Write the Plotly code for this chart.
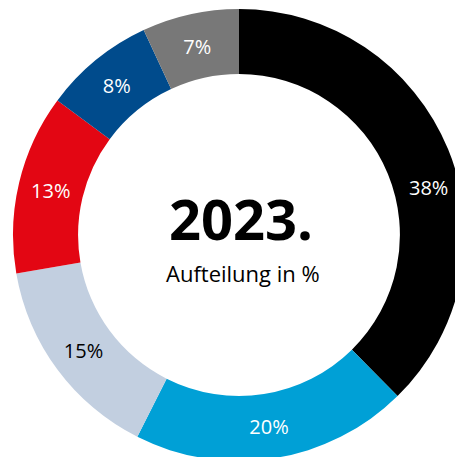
import plotly.graph_objects as go

# share per segment, clockwise from 12 o'clock
labels = ["A", "B", "C", "D", "E", "F"]
values = [38, 20, 15, 13, 8, 7]
colors = ["#000000", "#00a0d6", "#c2cfe0", "#e30613", "#004b8c", "#787878"]
text_colors = ["white", "white", "black", "white", "white", "white"]

year = "2023."
subtitle = "Aufteilung in %"

W, H = 480, 470

# the first label sits lower in the ring than its slice centre, so it is placed by hand
texts = [f"{v}%" for v in values]
texts[0] = ""

fig = go.Figure(go.Pie(
    labels=labels,
    values=values,
    text=texts,
    textinfo="text",
    textposition="inside",
    insidetextorientation="horizontal",
    insidetextfont=dict(family="Open Sans", size=20, color=text_colors),
    marker=dict(colors=colors, line=dict(width=0)),
    hole=0.712,
    sort=False,
    direction="clockwise",
    rotation=0,
    domain=dict(x=[13 / W, 465 / W], y=[1 - 461 / H, 1 - 9 / H]),
    hoverinfo="skip",
))

fig.add_annotation(text=f"{values[0]}%", x=428 / W, y=1 - 187 / H, xref="paper", yref="paper",
                   showarrow=False, font=dict(family="Open Sans", size=20, color="white"),
                   xanchor="center", yanchor="middle")

fig.add_annotation(text=f"<b>{year}</b>", x=241 / W, y=1 - 218 / H, xref="paper", yref="paper",
                   showarrow=False, font=dict(family="Open Sans", size=56, color="black"),
                   xanchor="center", yanchor="middle")
fig.add_annotation(text=subtitle, x=243 / W, y=1 - 273 / H, xref="paper", yref="paper",
                   showarrow=False, font=dict(family="Open Sans", size=22, color="black"),
                   xanchor="center", yanchor="middle")

fig.update_layout(
    width=W, height=H,
    margin=dict(l=0, r=0, t=0, b=0),
    showlegend=False,
    paper_bgcolor="white",
    plot_bgcolor="white",
)

fig.write_html("out.html", config={"displayModeBar": False},
               post_script="document.body.style.margin='0';document.body.style.overflow='hidden';"
                           "document.documentElement.style.overflow='hidden';")
